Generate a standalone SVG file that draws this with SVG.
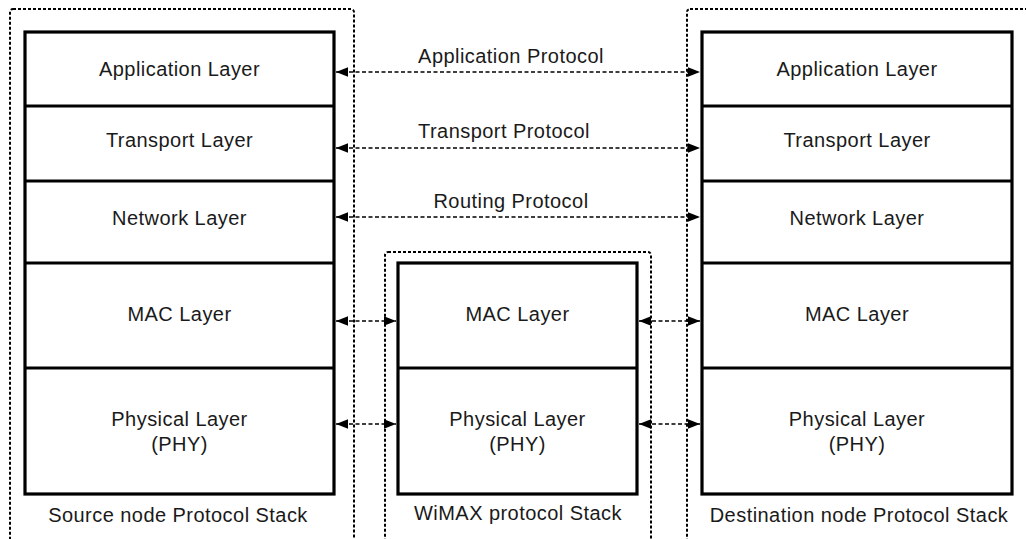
<svg xmlns="http://www.w3.org/2000/svg" width="1026" height="539" viewBox="0 0 1026 539">
<style>
.bg{fill:#fff}
.frame{fill:none;stroke:#000;stroke-width:2;stroke-dasharray:3 2}
.stack{fill:#fff;stroke:#000;stroke-width:3.2}
.div{stroke:#000;stroke-width:3.2}
.lbl{font-family:"Liberation Sans",Arial,sans-serif;font-size:20px;letter-spacing:0.45px;fill:#1a1a1a;text-anchor:middle}
.conn{stroke:#000;stroke-width:1.6;stroke-dasharray:4 2.5;fill:none;marker-start:url(#ah);marker-end:url(#ah)}
</style>
<defs>
<marker id="ah" markerUnits="userSpaceOnUse" markerWidth="12" markerHeight="10" refX="10" refY="4" orient="auto-start-reverse" viewBox="0 0 10 8">
<path d="M0,0 L10,4 L0,8 z" fill="#000"/>
</marker>
</defs>
<rect class="bg" x="0" y="0" width="1026" height="539"/>
<g id="frames">
<rect class="frame" x="10" y="9" width="344" height="545" rx="3"/>
<rect class="frame" x="687" y="9" width="360" height="545" rx="3"/>
<rect class="frame" x="385" y="252" width="266" height="300" rx="3"/>
</g>
<g id="source-stack">
<rect class="stack" x="25" y="32" width="309" height="462"/>
<line class="div" x1="25" y1="106" x2="334" y2="106"/>
<line class="div" x1="25" y1="181" x2="334" y2="181"/>
<line class="div" x1="25" y1="263" x2="334" y2="263"/>
<line class="div" x1="25" y1="368" x2="334" y2="368"/>
<text class="lbl" x="179.5" y="76">Application Layer</text>
<text class="lbl" x="179.5" y="147">Transport Layer</text>
<text class="lbl" x="179.5" y="225">Network Layer</text>
<text class="lbl" x="179.5" y="321">MAC Layer</text>
<text class="lbl" x="179.5" y="426">Physical Layer</text>
<text class="lbl" x="179.5" y="451">(PHY)</text>
<text class="lbl" x="178" y="522">Source node Protocol Stack</text>
</g>
<g id="wimax-stack">
<rect class="stack" x="398" y="263" width="239" height="231"/>
<line class="div" x1="398" y1="368" x2="637" y2="368"/>
<text class="lbl" x="517.5" y="321">MAC Layer</text>
<text class="lbl" x="517.5" y="426">Physical Layer</text>
<text class="lbl" x="517.5" y="451">(PHY)</text>
<text class="lbl" x="518" y="520">WiMAX protocol Stack</text>
</g>
<g id="destination-stack">
<rect class="stack" x="702" y="32" width="310" height="462"/>
<line class="div" x1="702" y1="106" x2="1012" y2="106"/>
<line class="div" x1="702" y1="181" x2="1012" y2="181"/>
<line class="div" x1="702" y1="263" x2="1012" y2="263"/>
<line class="div" x1="702" y1="368" x2="1012" y2="368"/>
<text class="lbl" x="857" y="76">Application Layer</text>
<text class="lbl" x="857" y="147">Transport Layer</text>
<text class="lbl" x="857" y="225">Network Layer</text>
<text class="lbl" x="857" y="321">MAC Layer</text>
<text class="lbl" x="857" y="426">Physical Layer</text>
<text class="lbl" x="857" y="451">(PHY)</text>
<text class="lbl" x="859" y="522">Destination node Protocol Stack</text>
</g>
<g id="connectors">
<line class="conn" x1="336" y1="72" x2="700" y2="72"/>
<line class="conn" x1="336" y1="148" x2="700" y2="148"/>
<line class="conn" x1="336" y1="217" x2="700" y2="217"/>
<line class="conn" x1="336" y1="321" x2="396" y2="321"/>
<line class="conn" x1="336" y1="424" x2="396" y2="424"/>
<line class="conn" x1="639" y1="321" x2="700" y2="321"/>
<line class="conn" x1="639" y1="424" x2="700" y2="424"/>
<text class="lbl" x="511" y="63">Application Protocol</text>
<text class="lbl" x="504" y="138">Transport Protocol</text>
<text class="lbl" x="511" y="208">Routing Protocol</text>
</g>
</svg>
